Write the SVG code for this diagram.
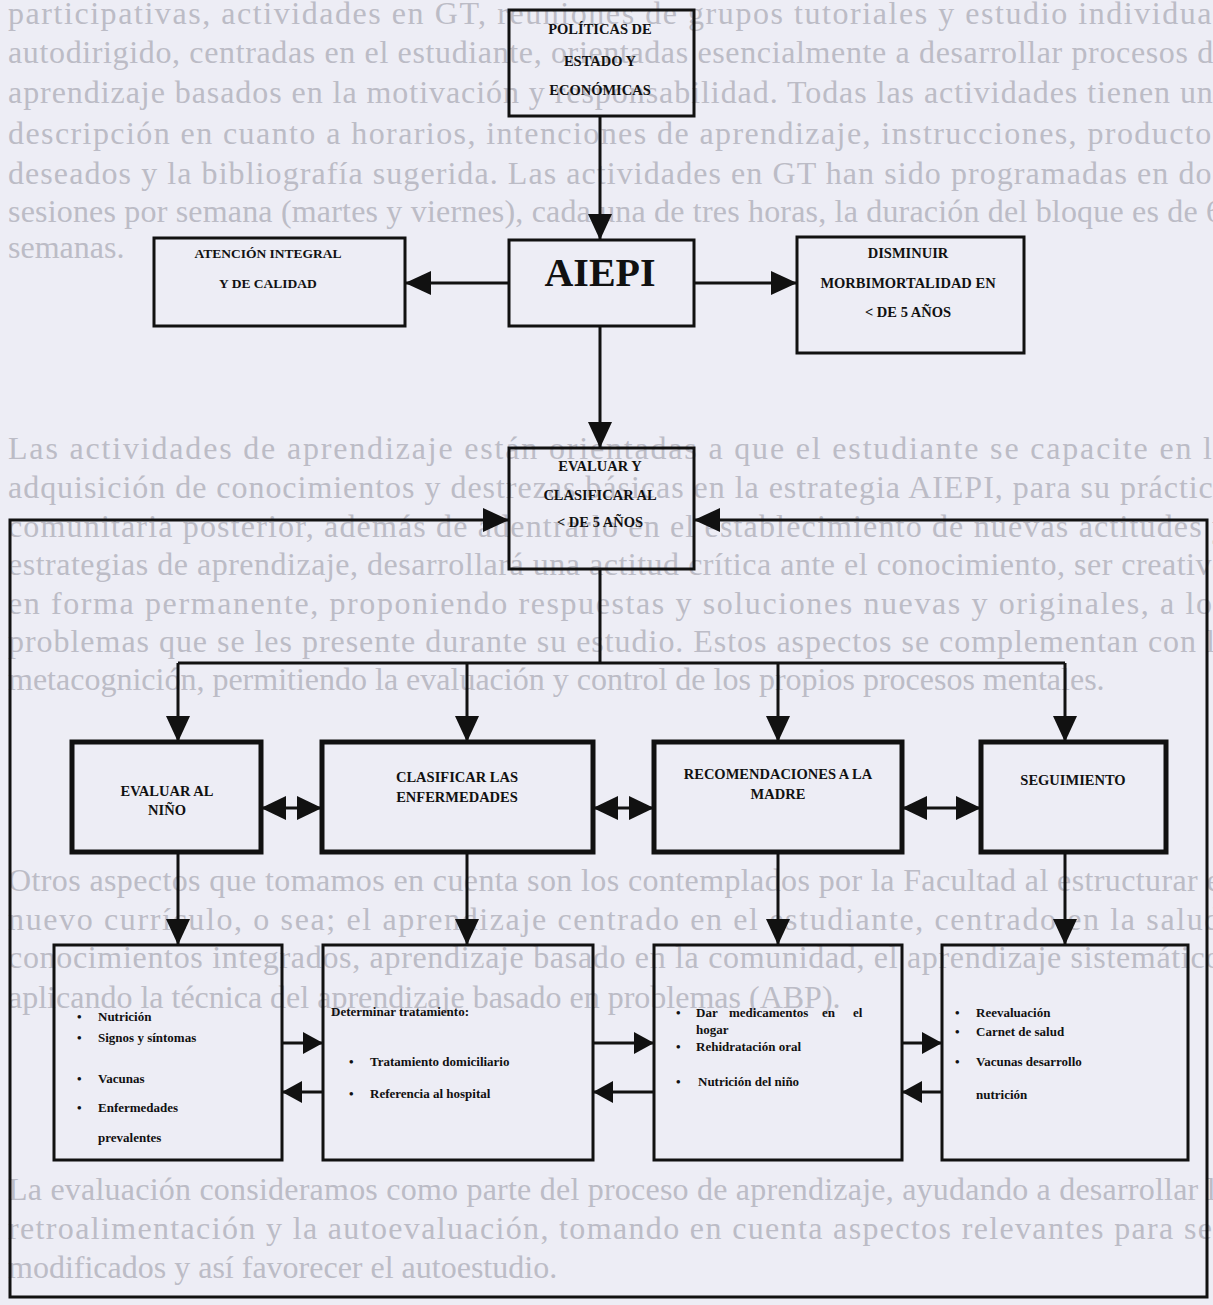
<svg xmlns="http://www.w3.org/2000/svg" width="1213" height="1305" viewBox="0 0 1213 1305">
<style>
.bg{font-family:"Liberation Serif","Times New Roman",serif;font-size:32px;fill:#bcbcc6}
.box{fill:none;stroke:#111;stroke-width:3}
.box2{fill:none;stroke:#111;stroke-width:5}
.lbl{font-family:"Liberation Serif","Times New Roman",serif;font-weight:bold;font-size:14.5px;fill:#111;text-anchor:middle}
.it{font-family:"Liberation Serif","Times New Roman",serif;font-weight:bold;font-size:13px;fill:#111}
.ln{fill:none;stroke:#111;stroke-width:3}
.big{marker-end:url(#ah)}
.sm{marker-end:url(#ahs)}
.dbl{marker-start:url(#ahd);marker-end:url(#ahd)}
</style>
<defs>
<marker id="ah" viewBox="0 0 26 24" refX="26" refY="12" markerWidth="26" markerHeight="24" markerUnits="userSpaceOnUse" orient="auto-start-reverse"><path d="M0,0 L26,12 L0,24 z" fill="#111"/></marker>
<marker id="ahd" viewBox="0 0 25 24" refX="25" refY="12" markerWidth="25" markerHeight="24" markerUnits="userSpaceOnUse" orient="auto-start-reverse"><path d="M0,0 L25,12 L0,24 z" fill="#111"/></marker>
<marker id="ahs" viewBox="0 0 20 22" refX="20" refY="11" markerWidth="20" markerHeight="22" markerUnits="userSpaceOnUse" orient="auto-start-reverse"><path d="M0,0 L20,11 L0,22 z" fill="#111"/></marker>
</defs>
<rect width="1213" height="1305" fill="#ededf5"/>
<g id="background-text" class="bg">
<text x="8" y="24" textLength="1214" lengthAdjust="spacing">participativas, actividades en GT, reuniones de grupos tutoriales y estudio individual</text>
<text x="8" y="63" textLength="1220" lengthAdjust="spacing">autodirigido, centradas en el estudiante, orientadas esencialmente a desarrollar procesos de</text>
<text x="8" y="103" textLength="1220" lengthAdjust="spacing">aprendizaje basados en la motivación y responsabilidad. Todas las actividades tienen una</text>
<text x="8" y="144" textLength="1217" lengthAdjust="spacing">descripción en cuanto a horarios, intenciones de aprendizaje, instrucciones, productos</text>
<text x="8" y="184" textLength="1217" lengthAdjust="spacing">deseados y la bibliografía sugerida. Las actividades en GT han sido programadas en dos</text>
<text x="8" y="222" textLength="1214" lengthAdjust="spacing">sesiones por semana (martes y viernes), cada una de tres horas, la duración del bloque es de 6</text>
<text x="8" y="258">semanas.</text>
<text x="8" y="459" textLength="1220" lengthAdjust="spacing">Las actividades de aprendizaje están orientadas a que el estudiante se capacite en la</text>
<text x="8" y="498" textLength="1220" lengthAdjust="spacing">adquisición de conocimientos y destrezas básicas en la estrategia AIEPI, para su práctica</text>
<text x="8" y="537" textLength="1220" lengthAdjust="spacing">comunitaria posterior, además de adentrarlo en  el establecimiento de nuevas actitudes y</text>
<text x="8" y="575" textLength="1220" lengthAdjust="spacing">estrategias de aprendizaje, desarrollará una actitud crítica  ante el conocimiento, ser creativo</text>
<text x="8" y="614" textLength="1218" lengthAdjust="spacing">en forma permanente, proponiendo respuestas y soluciones nuevas y originales, a los</text>
<text x="8" y="652" textLength="1222" lengthAdjust="spacing">problemas que se les presente durante su estudio. Estos aspectos se complementan con la</text>
<text x="8" y="690">metacognición, permitiendo la evaluación y control de los propios procesos mentales.</text>
<text x="8" y="891" textLength="1222" lengthAdjust="spacing">Otros aspectos que tomamos en cuenta son los contemplados por la Facultad al estructurar el</text>
<text x="8" y="930" textLength="1222" lengthAdjust="spacing">nuevo currículo, o sea; el aprendizaje centrado en el estudiante, centrado en la salud,</text>
<text x="8" y="968" textLength="1222" lengthAdjust="spacing">conocimientos integrados, aprendizaje basado en la comunidad, el aprendizaje sistemático,</text>
<text x="8" y="1008">aplicando la técnica del aprendizaje basado en problemas (ABP).</text>
<text x="8" y="1200" textLength="1222" lengthAdjust="spacing">La evaluación consideramos como parte del proceso de aprendizaje, ayudando a desarrollar la</text>
<text x="8" y="1239" textLength="1216" lengthAdjust="spacing">retroalimentación y la autoevaluación, tomando en cuenta aspectos relevantes para ser</text>
<text x="8" y="1278">modificados y así favorecer el autoestudio.</text>
</g>
<g id="connectors">
<line class="ln big" x1="600" y1="116" x2="600" y2="240"/>
<line class="ln big" x1="509" y1="283" x2="405" y2="283"/>
<line class="ln big" x1="694" y1="283" x2="797" y2="283"/>
<line class="ln big" x1="600" y1="326" x2="600" y2="448"/>
<path class="ln" d="M694,520 H1207 V1297 H10 V520 H509" style="marker-start:url(#ah);marker-end:url(#ah)"/>
<path class="ln" d="M600,569 V663 M178,663 H1065"/>
<line class="ln big" x1="178" y1="663" x2="178" y2="742"/>
<line class="ln big" x1="467" y1="663" x2="467" y2="742"/>
<line class="ln big" x1="778" y1="663" x2="778" y2="742"/>
<line class="ln big" x1="1065" y1="663" x2="1065" y2="742"/>
<line class="ln dbl" x1="261" y1="808" x2="322" y2="808"/>
<line class="ln dbl" x1="593" y1="808" x2="654" y2="808"/>
<line class="ln dbl" x1="902" y1="808" x2="981" y2="808"/>
<line class="ln big" x1="178" y1="852" x2="178" y2="945"/>
<line class="ln big" x1="467" y1="852" x2="467" y2="945"/>
<line class="ln big" x1="778" y1="852" x2="778" y2="945"/>
<line class="ln big" x1="1065" y1="852" x2="1065" y2="945"/>
<line class="ln sm" x1="282" y1="1043" x2="323" y2="1043"/>
<line class="ln sm" x1="593" y1="1043" x2="654" y2="1043"/>
<line class="ln sm" x1="902" y1="1043" x2="942" y2="1043"/>
<line class="ln sm" x1="323" y1="1092" x2="282" y2="1092"/>
<line class="ln sm" x1="654" y1="1092" x2="593" y2="1092"/>
<line class="ln sm" x1="942" y1="1092" x2="902" y2="1092"/>
</g>
<g id="politicas">
<rect class="box" x="509" y="10" width="185" height="106"/>
<text class="lbl" x="600" y="34">POLÍTICAS DE</text>
<text class="lbl" x="600" y="66">ESTADO Y</text>
<text class="lbl" x="600" y="95">ECONÓMICAS</text>
</g>
<g id="aiepi">
<rect class="box" x="509" y="240" width="185" height="86"/>
<text class="lbl" x="600" y="286" style="font-size:40px">AIEPI</text>
</g>
<g id="atencion">
<rect class="box" x="154" y="238" width="251" height="88"/>
<text class="lbl" x="268" y="258" style="font-size:13.5px">ATENCIÓN  INTEGRAL</text>
<text class="lbl" x="268" y="288" style="font-size:13.5px">Y DE CALIDAD</text>
</g>
<g id="disminuir">
<rect class="box" x="797" y="237" width="227" height="116"/>
<text class="lbl" x="908" y="258">DISMINUIR</text>
<text class="lbl" x="908" y="288">MORBIMORTALIDAD EN</text>
<text class="lbl" x="908" y="317">&lt; DE 5 AÑOS</text>
</g>
<g id="evaluar-clasificar">
<rect class="box" x="509" y="448" width="185" height="121"/>
<text class="lbl" x="600" y="471">EVALUAR Y</text>
<text class="lbl" x="600" y="500">CLASIFICAR AL</text>
<text class="lbl" x="600" y="527">&lt; DE 5 AÑOS</text>
</g>
<g id="evaluar-nino">
<rect class="box2" x="72" y="742" width="189" height="110"/>
<text class="lbl" x="167" y="796">EVALUAR AL</text>
<text class="lbl" x="167" y="815">NIÑO</text>
</g>
<g id="clasificar">
<rect class="box2" x="322" y="742" width="271" height="110"/>
<text class="lbl" x="457" y="782">CLASIFICAR LAS</text>
<text class="lbl" x="457" y="802">ENFERMEDADES</text>
</g>
<g id="recomendaciones">
<rect class="box2" x="654" y="742" width="248" height="110"/>
<text class="lbl" x="778" y="779">RECOMENDACIONES A LA</text>
<text class="lbl" x="778" y="799">MADRE</text>
</g>
<g id="seguimiento">
<rect class="box2" x="981" y="742" width="185" height="110"/>
<text class="lbl" x="1073" y="785">SEGUIMIENTO</text>
</g>
<g id="evaluar-items">
<rect class="box" x="54" y="945" width="228" height="215"/>
<g class="it">
<text x="77" y="1021">•</text><text x="98" y="1021">Nutrición</text>
<text x="77" y="1042">•</text><text x="98" y="1042">Signos y síntomas</text>
<text x="77" y="1083">•</text><text x="98" y="1083">Vacunas</text>
<text x="77" y="1112">•</text><text x="98" y="1112">Enfermedades</text>
<text x="98" y="1142">prevalentes</text>
</g>
</g>
<g id="tratamiento">
<rect class="box" x="323" y="945" width="270" height="215"/>
<g class="it">
<text x="331" y="1016">Determinar tratamiento:</text>
<text x="349" y="1066">•</text><text x="370" y="1066">Tratamiento domiciliario</text>
<text x="349" y="1098">•</text><text x="370" y="1098">Referencia al hospital</text>
</g>
</g>
<g id="madre-items">
<rect class="box" x="654" y="945" width="248" height="215"/>
<g class="it">
<text x="676" y="1017">•</text><text x="696" y="1017">Dar</text><text x="729" y="1017">medicamentos</text><text x="822" y="1017">en</text><text x="853" y="1017">el</text>
<text x="696" y="1034">hogar</text>
<text x="676" y="1051">•</text><text x="696" y="1051">Rehidratación oral</text>
<text x="676" y="1086">•</text><text x="698" y="1086">Nutrición del niño</text>
</g>
</g>
<g id="seguimiento-items">
<rect class="box" x="942" y="945" width="246" height="215"/>
<g class="it">
<text x="955" y="1017">•</text><text x="976" y="1017">Reevaluación</text>
<text x="955" y="1036">•</text><text x="976" y="1036">Carnet de salud</text>
<text x="955" y="1066">•</text><text x="976" y="1066">Vacunas desarrollo</text>
<text x="976" y="1099">nutrición</text>
</g>
</g>
</svg>
